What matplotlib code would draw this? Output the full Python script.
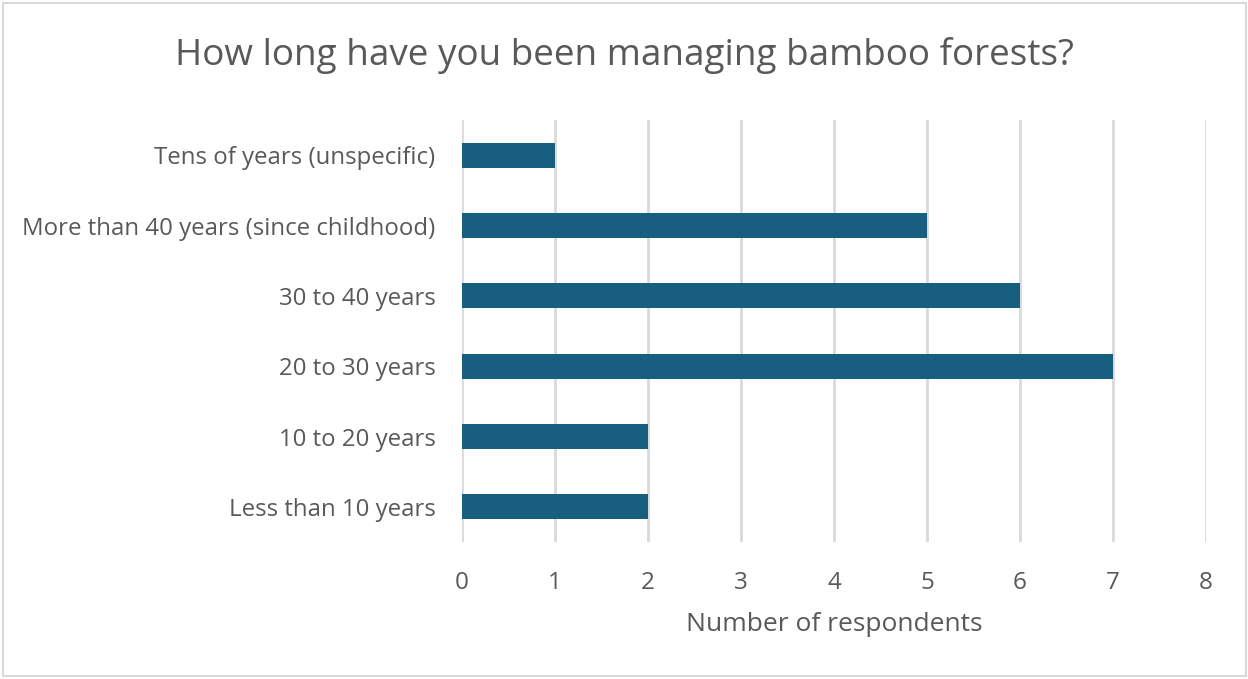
import matplotlib
matplotlib.use("Agg")
import matplotlib.pyplot as plt
from matplotlib.patches import Rectangle

categories = ["Less than 10 years", "10 to 20 years", "20 to 30 years",
              "30 to 40 years", "More than 40 years (since childhood)",
              "Tens of years (unspecific)"]
values = [2, 2, 7, 6, 5, 1]
xticks = [0, 1, 2, 3, 4, 5, 6, 7, 8]

title = "How long have you been managing bamboo forests?"
xlabel = "Number of respondents"

plt.rcParams['font.family'] = ['Open Sans', 'DejaVu Sans']
text_color = "#595959"
bar_color = "#175E7F"
grid_color = "#D9D9D9"

fig = plt.figure(figsize=(12.48, 6.79), dpi=100)
fig.patch.set_facecolor("white")
fig.add_artist(Rectangle((3/1248, 3/679), 1243/1248, 673/679, transform=fig.transFigure,
                         fill=False, edgecolor="#D9D9D9", linewidth=1.5))

ax = fig.add_axes([462/1248, 1 - 542/679, (1206 - 462)/1248, (542 - 120)/679])
ypos = list(range(len(categories)))
ax.barh(ypos, values, height=0.36, color=bar_color, zorder=3)
ax.set_xlim(0, 8)
ax.set_ylim(-0.5, len(categories) - 0.5)
ax.set_xticks(xticks)
ax.set_yticks(ypos)
ax.set_yticklabels(categories)
ax.grid(axis='x', color=grid_color, linewidth=2, zorder=0)
ax.set_axisbelow(True)
for s in ax.spines.values():
    s.set_visible(False)
ax.tick_params(axis='both', length=0, labelcolor=text_color)
ax.tick_params(axis='x', pad=21, labelsize=17.5)
ax.tick_params(axis='y', pad=19, labelsize=17.3)
ax.set_xlabel(xlabel, fontsize=19, color=text_color, labelpad=12)

fig.text(0.5, 1 - 55/679, title, ha='center', va='center', fontsize=26.6, color=text_color)

fig.savefig("out.png", dpi=100)
